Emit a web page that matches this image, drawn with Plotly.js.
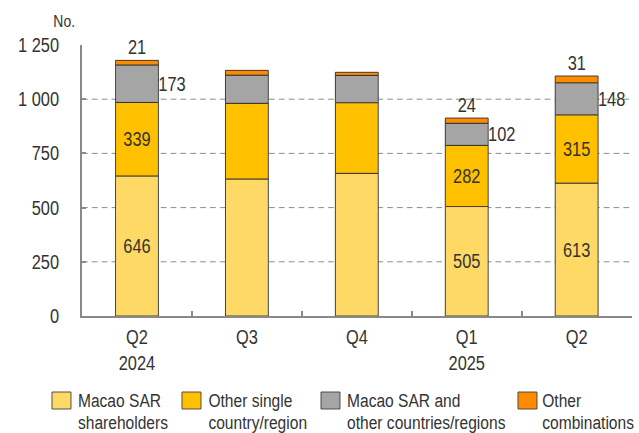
<!DOCTYPE html>
<html>
<head>
<meta charset="utf-8">
<script src="https://cdn.plot.ly/plotly-3.0.1.min.js"></script>
<style>
html,body{margin:0;padding:0;background:#fff;overflow:hidden;}
#wrap{width:639px;height:433px;overflow:hidden;}
#chart{width:779px;height:433px;transform:scaleX(0.82028);transform-origin:0 0;}
</style>
</head>
<body>
<div id="wrap"><div id="chart"></div></div>
<script>
const categories = ["Q2 2024", "Q3 2024", "Q4 2024", "Q1 2025", "Q2 2025"];
const tickLabels = ["Q2<br>2024", "Q3", "Q4", "Q1<br>2025", "Q2"];
const macaoSAR = [646, 632, 658, 505, 613];
const otherSingle = [339, 349, 326, 282, 315];
const macaoAndOther = [173, 130, 126, 102, 148];
const otherCombos = [21, 22, 14, 24, 31];
const labeled = [true, false, false, true, true];
const seriesNames = ["Macao SAR<br>shareholders", "Other single<br>country/region", "Macao SAR and<br>other countries/regions", "Other<br>combinations"];
const seriesColors = ["#FFD966", "#FFC000", "#A5A5A5", "#FF8C00"];
const yTicks = [0, 250, 500, 750, 1000, 1250];
const yTickText = ["0", "250", "500", "750", "1 000", "1 250"];

// page geometry (the chart is drawn wide and condensed horizontally, like the narrow font of the original)
const W = 779, H = 433, S = 639 / W;
const M = {l: 100, r: 9, t: 45, b: 117};
const PW = W - M.l - M.r, PH = H - M.t - M.b;
const toPaperX = xs => (xs / S - M.l) / PW;
const toPaperY = ys => (H - M.b - ys) / PH;

const FONT = "Liberation Sans, Arial, sans-serif";
const TXT = "#333333";
const allSeries = [macaoSAR, otherSingle, macaoAndOther, otherCombos];

const traces = allSeries.map((vals, k) => ({
  type: "bar",
  x: categories,
  y: vals,
  name: seriesNames[k],
  showlegend: false,
  marker: {color: seriesColors[k], line: {color: "#333333", width: 1}},
  text: k < 2 ? vals.map((v, i) => labeled[i] ? String(v) : "") : undefined,
  textposition: k < 2 ? "inside" : "none",
  insidetextanchor: "middle",
  textfont: {family: FONT, size: 20, color: TXT},
  hoverinfo: "skip"
}));

const annotations = [];
const shapes = [];
categories.forEach((c, i) => {
  if (!labeled[i]) return;
  const base = macaoSAR[i] + otherSingle[i];
  annotations.push({x: c, y: base + macaoAndOther[i] / 2, text: String(macaoAndOther[i]),
    showarrow: false, xanchor: "left", xshift: 24, yanchor: "middle",
    font: {family: FONT, size: 20, color: TXT}});
  const total = base + macaoAndOther[i] + otherCombos[i];
  annotations.push({x: c, y: total, text: String(otherCombos[i]),
    showarrow: false, xanchor: "center", yanchor: "bottom", yshift: 0,
    font: {family: FONT, size: 20, color: TXT}});
});
annotations.push({xref: "paper", yref: "paper", x: toPaperX(76), y: toPaperY(21), text: "No.",
  showarrow: false, xanchor: "right", yanchor: "middle",
  font: {family: FONT, size: 17, color: TXT}});

// legend (drawn as boxes and text lines)
const legendBoxLeft = [52, 182, 321, 518];
const legendTextLeft = [78, 208, 347, 542];
seriesNames.forEach((name, k) => {
  shapes.push({type: "rect", xref: "paper", yref: "paper",
    x0: toPaperX(legendBoxLeft[k]), x1: toPaperX(legendBoxLeft[k] + 19),
    y0: toPaperY(409), y1: toPaperY(392),
    fillcolor: seriesColors[k], line: {color: "#404040", width: 1}});
  name.split("<br>").forEach((line, j) => {
    annotations.push({xref: "paper", yref: "paper",
      x: toPaperX(legendTextLeft[k]), y: toPaperY(400.8 + 21.2 * j),
      text: line, showarrow: false, xanchor: "left", yanchor: "middle",
      xshift: -1, borderpad: 0, font: {family: FONT, size: 19, color: TXT}});
  });
});

const layout = {
  width: W, height: H,
  margin: M,
  paper_bgcolor: "#ffffff", plot_bgcolor: "#ffffff",
  barmode: "stack",
  bargap: 0.61,
  showlegend: false,
  font: {family: FONT, size: 20, color: TXT},
  xaxis: {
    type: "category",
    tickvals: categories, ticktext: tickLabels,
    showline: true, linecolor: "#898989", linewidth: 2,
    showgrid: false, zeroline: false,
    ticks: "inside", tickson: "boundaries", ticklen: 5, tickwidth: 2, tickcolor: "#898989",
    ticklabelstandoff: 2,
    tickfont: {family: FONT, size: 20, color: TXT}
  },
  yaxis: {
    range: [0, 1250],
    tickvals: yTicks, ticktext: yTickText,
    showline: true, linecolor: "#898989", linewidth: 2,
    showgrid: true, gridcolor: "#808080", gridwidth: 1, griddash: "7px,5px",
    zeroline: false, ticks: "inside", ticklen: 5, tickwidth: 2, tickcolor: "#898989",
    ticklabelstandoff: 22,
    tickfont: {family: FONT, size: 20, color: TXT}
  },
  shapes: shapes,
  annotations: annotations
};

Plotly.newPlot("chart", traces, layout, {displayModeBar: false, staticPlot: true});
</script>
</body>
</html>
